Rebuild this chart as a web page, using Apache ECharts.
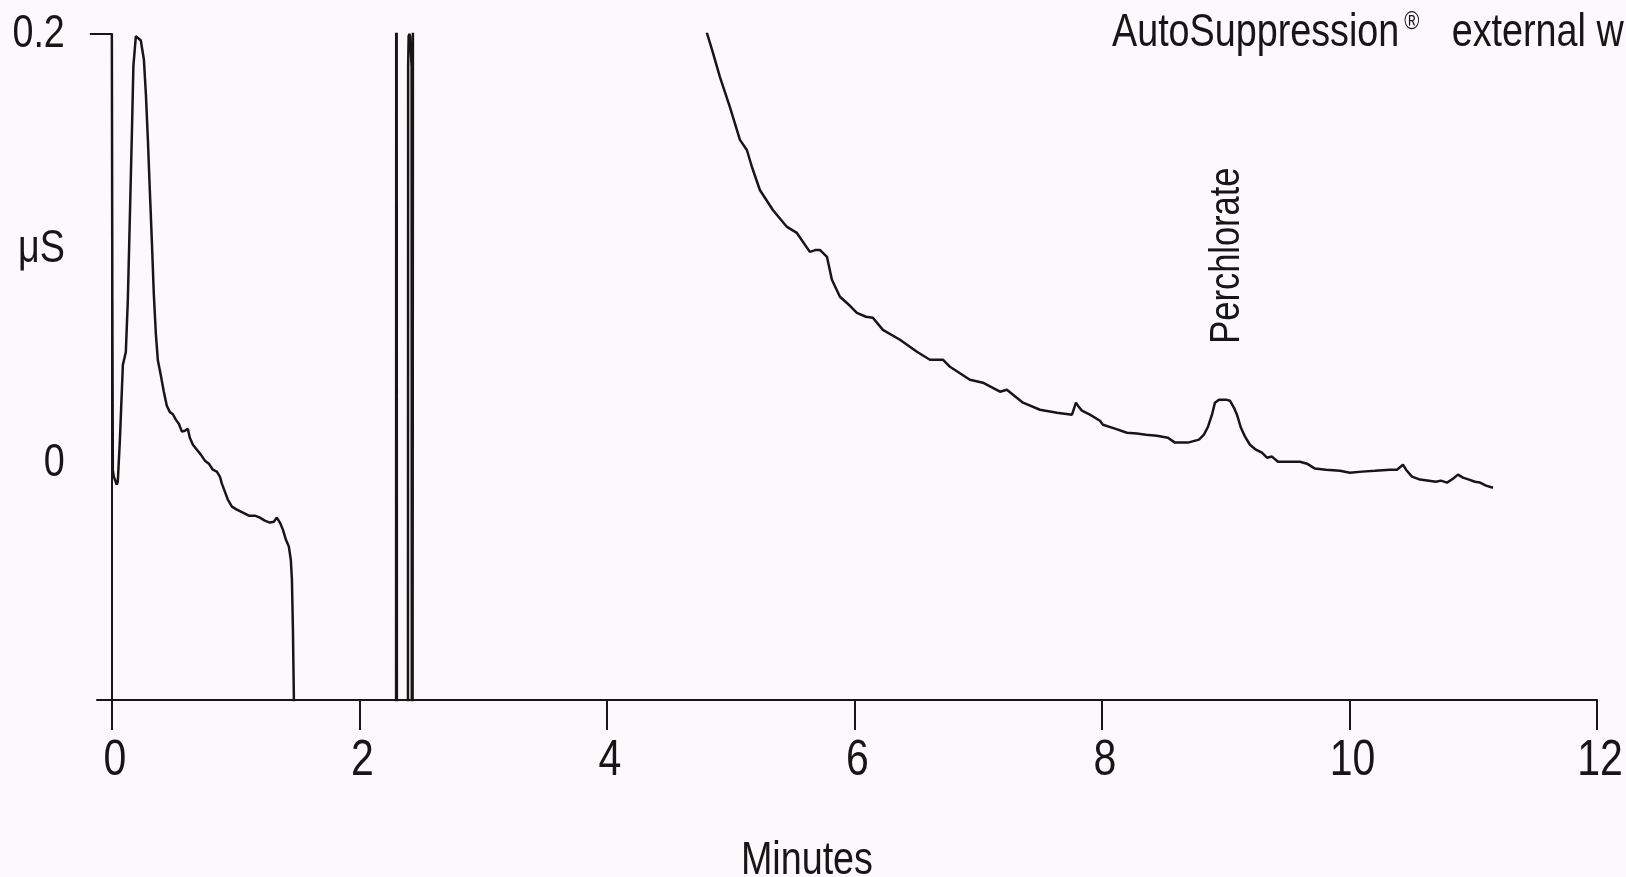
<!DOCTYPE html>
<html>
<head>
<meta charset="utf-8">
<title>Perchlorate chromatogram</title>
<script src="https://cdn.jsdelivr.net/npm/echarts@6/dist/echarts.min.js"></script>
<style>
  html, body { margin: 0; padding: 0; background: #fdf8fc; }
  #chart { width: 1626px; height: 877px; }
</style>
</head>
<body>
<div id="chart"></div>
<script>
// Conductivity trace (µS) against retention time (minutes).
// Values beyond the plotted window (off-scale excursions) are kept as-is
// and simply clipped by the plot area.

// Injection / void region, 0 – 1.5 min
const frontTime = [0, 0.004, 0.008, 0.016, 0.040, 0.048, 0.065, 0.089, 0.113, 0.129, 0.145, 0.162,
  0.174, 0.194, 0.210, 0.234, 0.259, 0.275, 0.291, 0.307, 0.323, 0.339, 0.356, 0.372, 0.396, 0.420,
  0.444, 0.469, 0.493, 0.517, 0.541, 0.566, 0.590, 0.614, 0.630, 0.655, 0.687, 0.719, 0.752, 0.784,
  0.816, 0.848, 0.873, 0.889, 0.913, 0.937, 0.970, 1.010, 1.059, 1.107, 1.156, 1.196, 1.236, 1.277,
  1.309, 1.333, 1.358, 1.382, 1.406, 1.430, 1.446, 1.455, 1.463, 1.471, 1.479];
const frontSignal = [0.2, 0.076, -0.003, -0.006, -0.0098, -0.0084, 0.011, 0.046, 0.052, 0.076, 0.1135, 0.154,
  0.185, 0.199, 0.199, 0.197, 0.188, 0.172, 0.151, 0.127, 0.104, 0.079, 0.060, 0.048, 0.041, 0.0335,
  0.027, 0.024, 0.023, 0.0205, 0.0186, 0.0149, 0.0153, 0.0163, 0.0121, 0.0088, 0.0065, 0.0042, 0.0014, 0.0,
  -0.0028, -0.0037, -0.006, -0.0093, -0.013, -0.0167, -0.020, -0.0214, -0.0228, -0.0242, -0.0242, -0.0251, -0.0265, -0.0274,
  -0.027, -0.0251, -0.0274, -0.0307, -0.0353, -0.0386, -0.0447, -0.054, -0.077, -0.110, -0.14];

// Off-scale excursions, 1.5 – 4.7 min
const spikeTime = [1.50, 2.295, 2.299, 2.302, 2.306, 2.390, 2.394, 2.398, 2.404, 2.410, 2.422, 2.426, 2.432, 2.436, 4.70];
const spikeSignal = [-0.6, -0.6, 0.6, 0.6, -0.6, -0.6, 0.185, 0.199, 0.2, 0.199, 0.185, -0.6, -0.6, 0.6, 0.6];

// Baseline recovery and perchlorate elution, 4.8 – 11.2 min
const tailTime = [4.808, 4.857, 4.913, 4.994, 5.075, 5.131, 5.172, 5.236, 5.341, 5.455, 5.535, 5.640,
  5.689, 5.721, 5.778, 5.818, 5.883, 5.964, 6.020, 6.093, 6.149, 6.230, 6.368, 6.505, 6.610, 6.715,
  6.772, 6.933, 7.038, 7.176, 7.232, 7.362, 7.499, 7.636, 7.758, 7.790, 7.806, 7.838, 7.903, 7.984,
  8.008, 8.105, 8.202, 8.283, 8.356, 8.444, 8.533, 8.590, 8.695, 8.784, 8.824, 8.857, 8.889, 8.913,
  8.945, 9.002, 9.034, 9.067, 9.091, 9.123, 9.156, 9.196, 9.244, 9.293, 9.333, 9.374, 9.422, 9.519,
  9.600, 9.657, 9.721, 9.810, 9.923, 10.004, 10.101, 10.206, 10.327, 10.384, 10.432, 10.457, 10.505,
  10.570, 10.642, 10.699, 10.739, 10.788, 10.836, 10.877, 10.917, 10.966, 11.014, 11.055, 11.103, 11.160];
const tailSignal = [0.2005, 0.1912, 0.1800, 0.1660, 0.1507, 0.1460, 0.1381, 0.1274, 0.1181, 0.1102, 0.1074, 0.0986,
  0.0995, 0.0995, 0.0963, 0.0856, 0.0777, 0.0735, 0.0702, 0.0684, 0.0679, 0.0623, 0.0577, 0.0521, 0.0484, 0.0484,
  0.0451, 0.0391, 0.0377, 0.0335, 0.0344, 0.0284, 0.0251, 0.0237, 0.0228, 0.0284, 0.0270, 0.0247, 0.0228, 0.0200,
  0.0181, 0.0163, 0.0144, 0.0140, 0.0135, 0.0130, 0.0121, 0.0098, 0.0098, 0.0112, 0.0135, 0.0172, 0.0228, 0.0284,
  0.0298, 0.0298, 0.0293, 0.0260, 0.0228, 0.0167, 0.0126, 0.0088, 0.0065, 0.0051, 0.0028, 0.0033, 0.0009, 0.0009,
  0.0009, 0.0, -0.0023, -0.0028, -0.0033, -0.0042, -0.0037, -0.0033, -0.0028, -0.0028, -0.0005, -0.0028, -0.0060,
  -0.0074, -0.0079, -0.0084, -0.0079, -0.0088, -0.0070, -0.0051, -0.0065, -0.0074, -0.0084, -0.0088, -0.0102, -0.0112];

// Axis tick labels
const timeTicks = [0, 2, 4, 6, 8, 10, 12];
const signalLabelValues = [0, 0.1, 0.2];
const signalLabelText = ['0', 'μS', '0.2'];
const signalTicks = [0.2];

const INK = '#161616';
const FONT = "'Liberation Sans', Arial, sans-serif";
const NARROW = 0.82;   // horizontal squeeze giving a narrow grotesque look

const pairs = (ts, vs) => ts.map((t, i) => [t, vs[i]]);
const trace = [].concat(
  pairs(frontTime, frontSignal),
  pairs(spikeTime, spikeSignal),
  pairs(tailTime, tailSignal)
);

// Apex of the perchlorate peak (searched between 8.5 and 9.5 min)
let peakIdx = -1;
tailTime.forEach((t, i) => {
  if (t > 8.5 && t < 9.5 && (peakIdx < 0 || tailSignal[i] > tailSignal[peakIdx])) peakIdx = i;
});
const peakTime = (tailTime[peakIdx] + tailTime[peakIdx + 1]) / 2;
const peakSignal = tailSignal[peakIdx];

const chart = echarts.init(document.getElementById('chart'), null, { renderer: 'canvas' });

chart.setOption({
  backgroundColor: '#fdf8fc',
  animation: false,
  grid: {
    left: 97, right: 29, top: 34, bottom: 177,
    containLabel: false,
    outerBoundsMode: 'none'
  },
  xAxis: {
    type: 'value',
    min: -0.12,
    max: 12,
    splitLine: { show: false },
    axisLine: { show: true, onZero: false, lineStyle: { color: INK, width: 2 } },
    axisTick: { show: true, customValues: timeTicks, length: 30, lineStyle: { color: INK, width: 2 } },
    axisLabel: { show: false }
  },
  yAxis: {
    type: 'value',
    min: -0.11,
    max: 0.2,
    splitLine: { show: false },
    axisLine: { show: true, onZero: true, lineStyle: { color: INK, width: 2 } },
    axisTick: { show: true, customValues: signalTicks, length: 22, lineStyle: { color: INK, width: 2 } },
    axisLabel: { show: false }
  },
  series: [{
    type: 'line',
    data: trace,
    showSymbol: false,
    clip: true,
    lineStyle: { color: INK, width: 2.5 },
    silent: true
  }]
});

// Text is laid out against the axis scales, squeezed horizontally.
const toPx = (t, v) => chart.convertToPixel({ gridIndex: 0 }, [t, v]);
const textEl = (text, x, y, size, align, vAlign, extra) => Object.assign({
  type: 'text',
  x, y,
  scaleX: NARROW,
  silent: true,
  style: {
    text, fill: INK, fontFamily: FONT, fontSize: size,
    align, verticalAlign: vAlign
  }
}, extra || {});

const graphics = [];
const yAxisX = toPx(0, 0)[0];
const xAxisY = toPx(0, -0.11)[1];

// Signal axis labels, right-aligned left of the axis
signalLabelValues.forEach((v, i) => {
  const y = toPx(0, v)[1];
  graphics.push(textEl(signalLabelText[i], yAxisX - 47, y, 46, 'right', 'middle'));
});

// Time axis labels under the ticks
timeTicks.forEach(t => {
  const x = toPx(t, 0)[0];
  graphics.push(textEl(String(t), x + 3, xAxisY + 61, 50, 'center', 'middle'));
});

// Axis title
const midX = toPx(5.6, 0)[0];
graphics.push(textEl('Minutes', midX + 2, xAxisY + 161, 46, 'center', 'middle'));

// Peak annotation, read upwards above the apex
const apex = toPx(peakTime, peakSignal);
graphics.push(textEl('Perchlorate', apex[0] + 5, apex[1] - 56, 42, 'left', 'middle', { rotation: Math.PI / 2 }));

// Detection mode heading
graphics.push({
  type: 'text',
  x: 1112, y: 33,
  scaleX: NARROW,
  silent: true,
  style: {
    text: '{a|AutoSuppression}{r|®}{a|  external w}',
    fill: INK,
    align: 'left',
    verticalAlign: 'middle',
    rich: {
      a: { fontFamily: FONT, fontSize: 46, fill: INK },
      r: { fontFamily: FONT, fontSize: 25, fill: INK, verticalAlign: 'top', padding: [0, 14, 0, 6] }
    }
  }
});

chart.setOption({ graphic: { elements: graphics } });
</script>
</body>
</html>
